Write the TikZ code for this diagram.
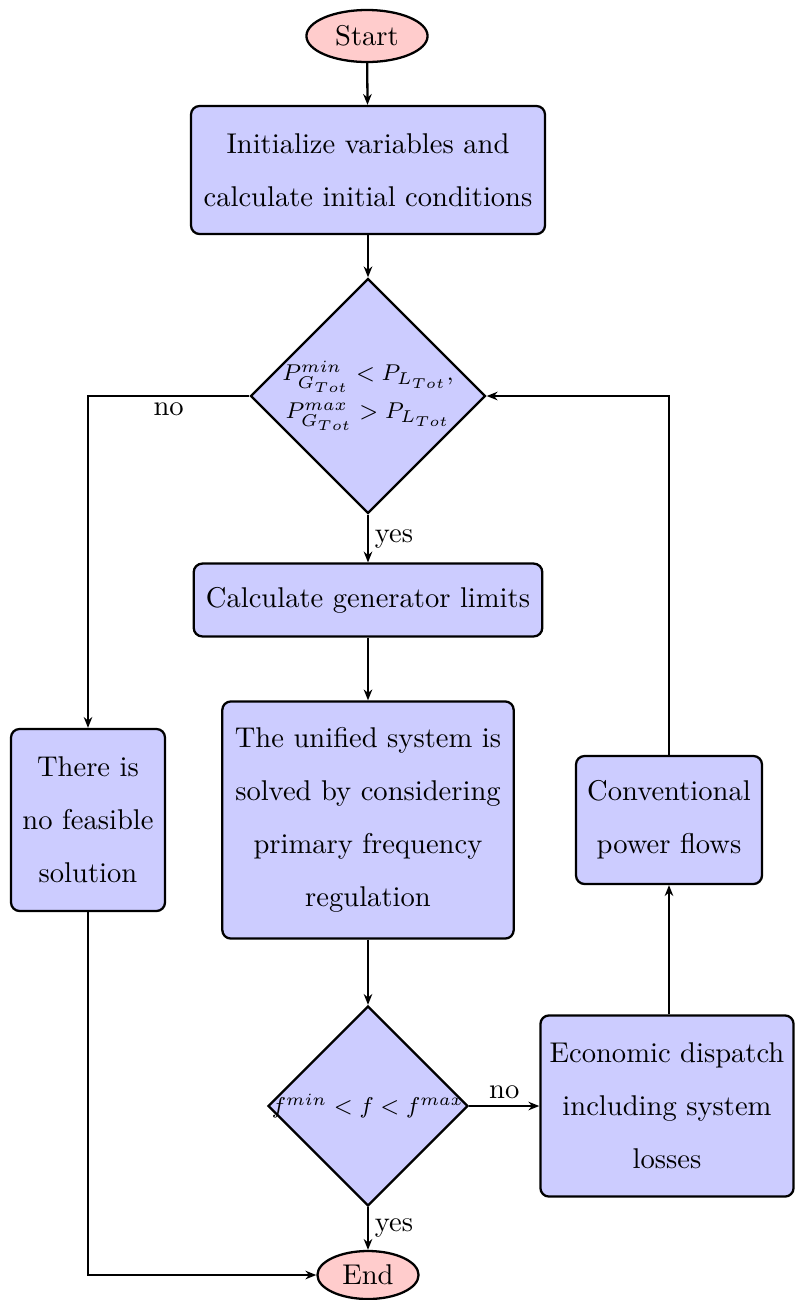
\documentclass[tikz,border=0pt]{standalone}
\usetikzlibrary{shapes.geometric,arrows.meta}
\begin{document}
\begin{tikzpicture}[x=0.35pt,y=-0.35pt,
  box/.style={draw,thick,fill=blue!20,rounded corners=3pt,align=center,
    font=\linespread{1.55}\selectfont,inner sep=0pt},
  term/.style={draw,thick,fill=red!20,ellipse,inner sep=0pt},
  dec/.style={draw,thick,fill=blue!20,diamond,aspect=1,inner sep=0pt},
  cond/.style={align=center,inner sep=0pt,font=\footnotesize\linespread{1.4}\selectfont},
  link/.style={thick,-{Stealth[length=3.8pt,width=3pt]}},
  tag/.style={inner sep=2pt}]
\useasboundingbox (0,0) rectangle (794,1300);

% main column
\node[term,minimum width=42.4pt,minimum height=18.2pt] (start) at (367,36) {Start};
\node[box,minimum width=123.9pt,minimum height=44.8pt] (init) at (368,170)
  {Initialize variables and\\calculate initial conditions};
\node[dec,minimum width=82.3pt,minimum height=82.3pt,
  label={[name=c1,cond]center:{$P^{min}_{G_{Tot}}<P_{L_{Tot}}$,\\$P^{max}_{G_{Tot}}>P_{L_{Tot}}$}}]
  (d1) at (368,396) {};
\node[box,minimum width=122pt,minimum height=25.5pt] (lim) at (368,600)
  {Calculate generator limits};
\node[box,minimum width=102pt,minimum height=83pt] (uni) at (368,820)
  {The unified system is\\solved by considering\\primary frequency\\regulation};
\node[dec,minimum width=70pt,minimum height=70pt,
  label={[name=c2,cond]center:{$f^{min}<f<f^{max}$}}] (d2) at (368,1106) {};
\node[term,minimum width=35.4pt,minimum height=16.8pt] (end) at (368,1275) {End};

% side branches
\node[box,minimum width=53.9pt,minimum height=63.7pt] (nofs) at (88,820)
  {There is\\no feasible\\solution};
\node[box,minimum width=88.6pt,minimum height=63.4pt] (econ) at (667,1106)
  {Economic dispatch\\including system\\losses};
\node[box,minimum width=65.1pt,minimum height=44.8pt] (conv) at (669,820)
  {Conventional\\power flows};

% connectors
\draw[link] (start) -- (init);
\draw[link] (init) -- (d1);
\draw[link] (d1) -- node[right,tag]{yes} (lim);
\draw[link] (lim) -- (uni);
\draw[link] (uni) -- (d2);
\draw[link] (d2) -- node[right,tag]{yes} (end);
\draw[link] (d1.west) -| node[pos=0.25,below,tag]{no} (nofs.north);
\draw[link] (nofs.south) |- (end.west);
\draw[link] (d2.east) -- node[above,tag]{no} (econ.west);
\draw[link] (conv.south |- econ.north) -- (conv.south);
\draw[link] (conv.north) |- (d1.east);
\end{tikzpicture}
\end{document}
